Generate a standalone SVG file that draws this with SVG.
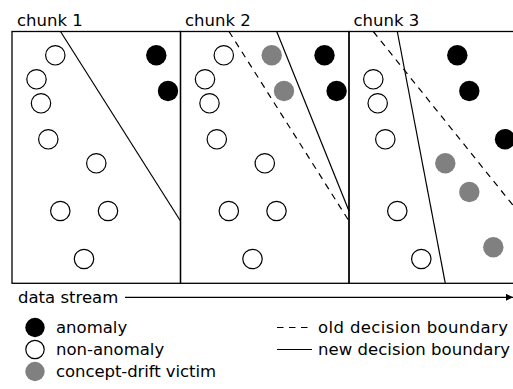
<svg xmlns="http://www.w3.org/2000/svg" width="513" height="389" viewBox="0 0 513 389">
<style>
text{font-family:"DejaVu Sans",sans-serif;font-size:16.5px;fill:#000}
.box{fill:none;stroke:#000;stroke-width:1.3}
.o{fill:#fff;stroke:#000;stroke-width:1.2}
.a{fill:#000}
.g{fill:#808080}
.new{stroke:#000;stroke-width:1.2;fill:none}
.old{stroke:#000;stroke-width:1.2;fill:none;stroke-dasharray:6.5 5.5}
</style>
<defs>
<marker id="ah" viewBox="0 0 10 10" refX="10" refY="5" markerWidth="7" markerHeight="7" markerUnits="userSpaceOnUse" orient="auto"><path d="M0,0L10,5L0,10z" fill="#000"/></marker>
</defs>
<g id="chunk1">
<rect class="box" x="12" y="31.5" width="168.5" height="251.8"/>
<text x="17" y="26">chunk 1</text>
<circle class="o" cx="55.3" cy="55.3" r="9.7"/>
<circle class="o" cx="36.5" cy="79.3" r="9.7"/>
<circle class="o" cx="41" cy="103.3" r="9.7"/>
<circle class="o" cx="48.3" cy="139.3" r="9.7"/>
<circle class="o" cx="96.3" cy="163.3" r="9.7"/>
<circle class="o" cx="60.3" cy="211" r="9.7"/>
<circle class="o" cx="108" cy="211" r="9.7"/>
<circle class="o" cx="84" cy="259" r="9.7"/>
<circle class="a" cx="156.3" cy="55.3" r="10.2"/>
<circle class="a" cx="168" cy="91" r="10.2"/>
</g>
<g id="chunk2">
<rect class="box" x="180.5" y="31.5" width="168.5" height="251.8"/>
<text x="185" y="26">chunk 2</text>
<circle class="o" cx="223.8" cy="55.3" r="9.7"/>
<circle class="o" cx="205" cy="79.3" r="9.7"/>
<circle class="o" cx="209.5" cy="103.3" r="9.7"/>
<circle class="o" cx="216.8" cy="139.3" r="9.7"/>
<circle class="o" cx="264.8" cy="163.3" r="9.7"/>
<circle class="o" cx="228.8" cy="211" r="9.7"/>
<circle class="o" cx="276.5" cy="211" r="9.7"/>
<circle class="o" cx="252.5" cy="259" r="9.7"/>
<circle class="g" cx="271.7" cy="55.3" r="10.2"/>
<circle class="g" cx="284" cy="91" r="10.2"/>
<circle class="a" cx="324.5" cy="55.3" r="10.2"/>
<circle class="a" cx="336.6" cy="91" r="10.2"/>
</g>
<g id="chunk3">
<rect class="box" x="349" y="31.5" width="168.5" height="251.8"/>
<text x="353.5" y="26">chunk 3</text>
<circle class="o" cx="373.3" cy="79.3" r="9.7"/>
<circle class="o" cx="377.7" cy="103.3" r="9.7"/>
<circle class="o" cx="385.3" cy="139.3" r="9.7"/>
<circle class="o" cx="397.3" cy="211" r="9.7"/>
<circle class="o" cx="421.3" cy="259" r="9.7"/>
<circle class="a" cx="457.3" cy="55.3" r="10.2"/>
<circle class="a" cx="469.3" cy="91" r="10.2"/>
<circle class="a" cx="505" cy="139.3" r="10.2"/>
<circle class="g" cx="445.3" cy="163.3" r="10.2"/>
<circle class="g" cx="469.3" cy="192" r="10.2"/>
<circle class="g" cx="493.3" cy="247.3" r="10.2"/>
</g>
<g id="connectors">
<line class="new" x1="60.5" y1="31.5" x2="180.5" y2="221"/>
<line class="old" x1="229" y1="31.5" x2="349" y2="221"/>
<line class="new" x1="276.7" y1="31.5" x2="349" y2="211"/>
<line class="old" x1="373.3" y1="31.5" x2="520" y2="214"/>
<line class="new" x1="397.3" y1="31.5" x2="445.3" y2="283.3"/>
<line x1="125" y1="297.3" x2="513" y2="297.3" stroke="#000" stroke-width="1.2" marker-end="url(#ah)"/>
</g>
<g id="stream">
<text x="18" y="302.5">data stream</text>
</g>
<g id="legend">
<circle class="a" cx="35" cy="327.5" r="9.7"/>
<text x="56" y="332.5">anomaly</text>
<circle class="o" cx="35" cy="349.5" r="9.2"/>
<text x="56" y="354.5">non-anomaly</text>
<circle class="g" cx="35" cy="371.5" r="9.7"/>
<text x="56" y="376.5" textLength="160" lengthAdjust="spacing">concept-drift victim</text>
<line class="old" x1="277" y1="327.5" x2="312" y2="327.5"/>
<text x="318" y="332.5" textLength="190" lengthAdjust="spacing">old decision boundary</text>
<line class="new" x1="277" y1="349.5" x2="312" y2="349.5"/>
<text x="318" y="354.5" textLength="192" lengthAdjust="spacing">new decision boundary</text>
</g>
</svg>
